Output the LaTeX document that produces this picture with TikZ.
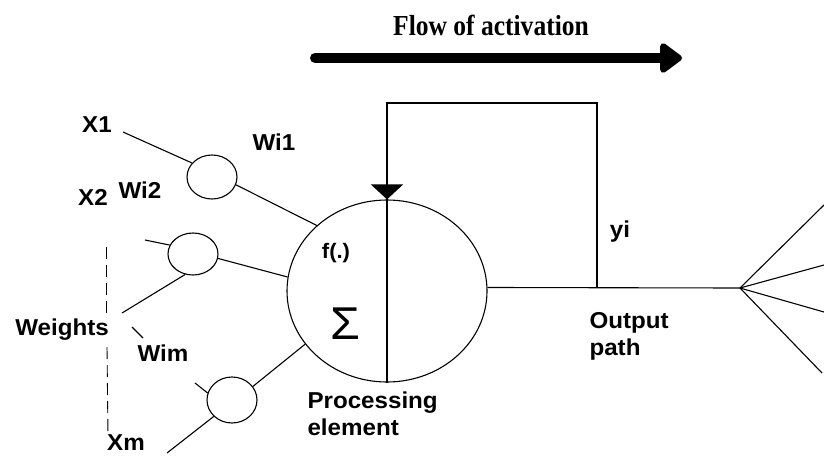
\documentclass[tikz,border=0pt]{standalone}
\usepackage{fontspec}
\setmainfont{Liberation Sans}[FakeStretch=1.05]
\newfontfamily\flowfont{Liberation Serif}[FakeStretch=0.88]
\usetikzlibrary{shapes.geometric,arrows.meta}

\begin{document}
\begin{tikzpicture}[x=1pt,y=-1pt,line width=1.1pt,
  lbl/.style={font=\fontsize{23}{27}\selectfont\bfseries,inner sep=0pt,align=left},
  wgt/.style={draw,ellipse,minimum width=50pt,minimum height=44pt,inner sep=0pt}]
\useasboundingbox (0,0) rectangle (824,455);

\node[font=\flowfont\fontsize{29}{30}\selectfont\bfseries](flow) at (491,25){Flow of activation};
\coordinate (fa) at (315,58); \coordinate (fb) at (682,58);
\draw[line width=10pt,line cap=round,-{Triangle[length=24pt,width=34pt,round]}](fa)--(fb);

\node[draw,ellipse,minimum width=200pt,minimum height=182pt,inner sep=0pt](PE) at (387,291){};
\draw (PE.north)--(PE.south);
\node[font=\fontsize{21}{22}\selectfont\bfseries](fdot) at (336,253){f(.)};
\node[font=\fontsize{46}{46}\selectfont](sum) at (345,324){Σ};
\node[lbl,anchor=north west](pelbl) at (307,391){Processing\\element};

\node[wgt](W1) at (212,177){};
\node[wgt,minimum height=42pt](W2) at (193,254){};
\node[wgt,minimum height=46pt](W3) at (232,400){};

\coordinate (x1in) at (123,132);
\coordinate (w2a) at (145,240); \coordinate (w2b) at (122,313);
\coordinate (w3a) at (195,383); \coordinate (xmin) at (167,453);
\coordinate (tk1) at (132,327); \coordinate (tk2) at (143,338);
\draw (x1in)--(W1.145); \draw (W1.-18)--(PE.137);
\draw (w2a)--(W2.159); \draw (w2b)--(W2.-111); \draw (W2.-10)--(PE.172);
\draw (w3a)--(W3.164); \draw (xmin)--(W3.-138); \draw (W3.33)--(PE.-147);
\draw (tk1)--(tk2);

\node[lbl](X1) at (97,125){X1};
\node[lbl](Wi1) at (274,142){Wi1};
\node[lbl](X2) at (93,197){X2};
\node[lbl](Wi2) at (140,190){Wi2};
\node[lbl](wts) at (62,330){Weights};
\node[lbl](Wim) at (163,353){Wim};
\node[lbl](Xm) at (126,443){Xm};
\coordinate (d1) at (106,247); \coordinate (d2) at (106,313);
\coordinate (d3) at (107,347); \coordinate (d4) at (108,436);
\draw[dashed,line width=0.9pt,dash pattern=on 12pt off 6pt](d1)--(d2);
\draw[dashed,line width=0.9pt,dash pattern=on 12pt off 6pt](d3)--(d4);

\coordinate (tap) at (597,288); \coordinate (fbtop) at (597,103);
\coordinate (fan) at (740,288);
\draw (PE.2)--(fan);
\draw[-{Triangle[length=15pt,width=32pt]}](tap)--(fbtop)-|(PE.north);
\node[lbl](yi) at (620,232){yi};
\node[lbl,anchor=north west](outlbl) at (589,312){Output\\path};
\foreach \ex/\ey in {824/205,824/265,824/312,822/373}
  \draw (fan)--(\ex,\ey);
\end{tikzpicture}
\end{document}
